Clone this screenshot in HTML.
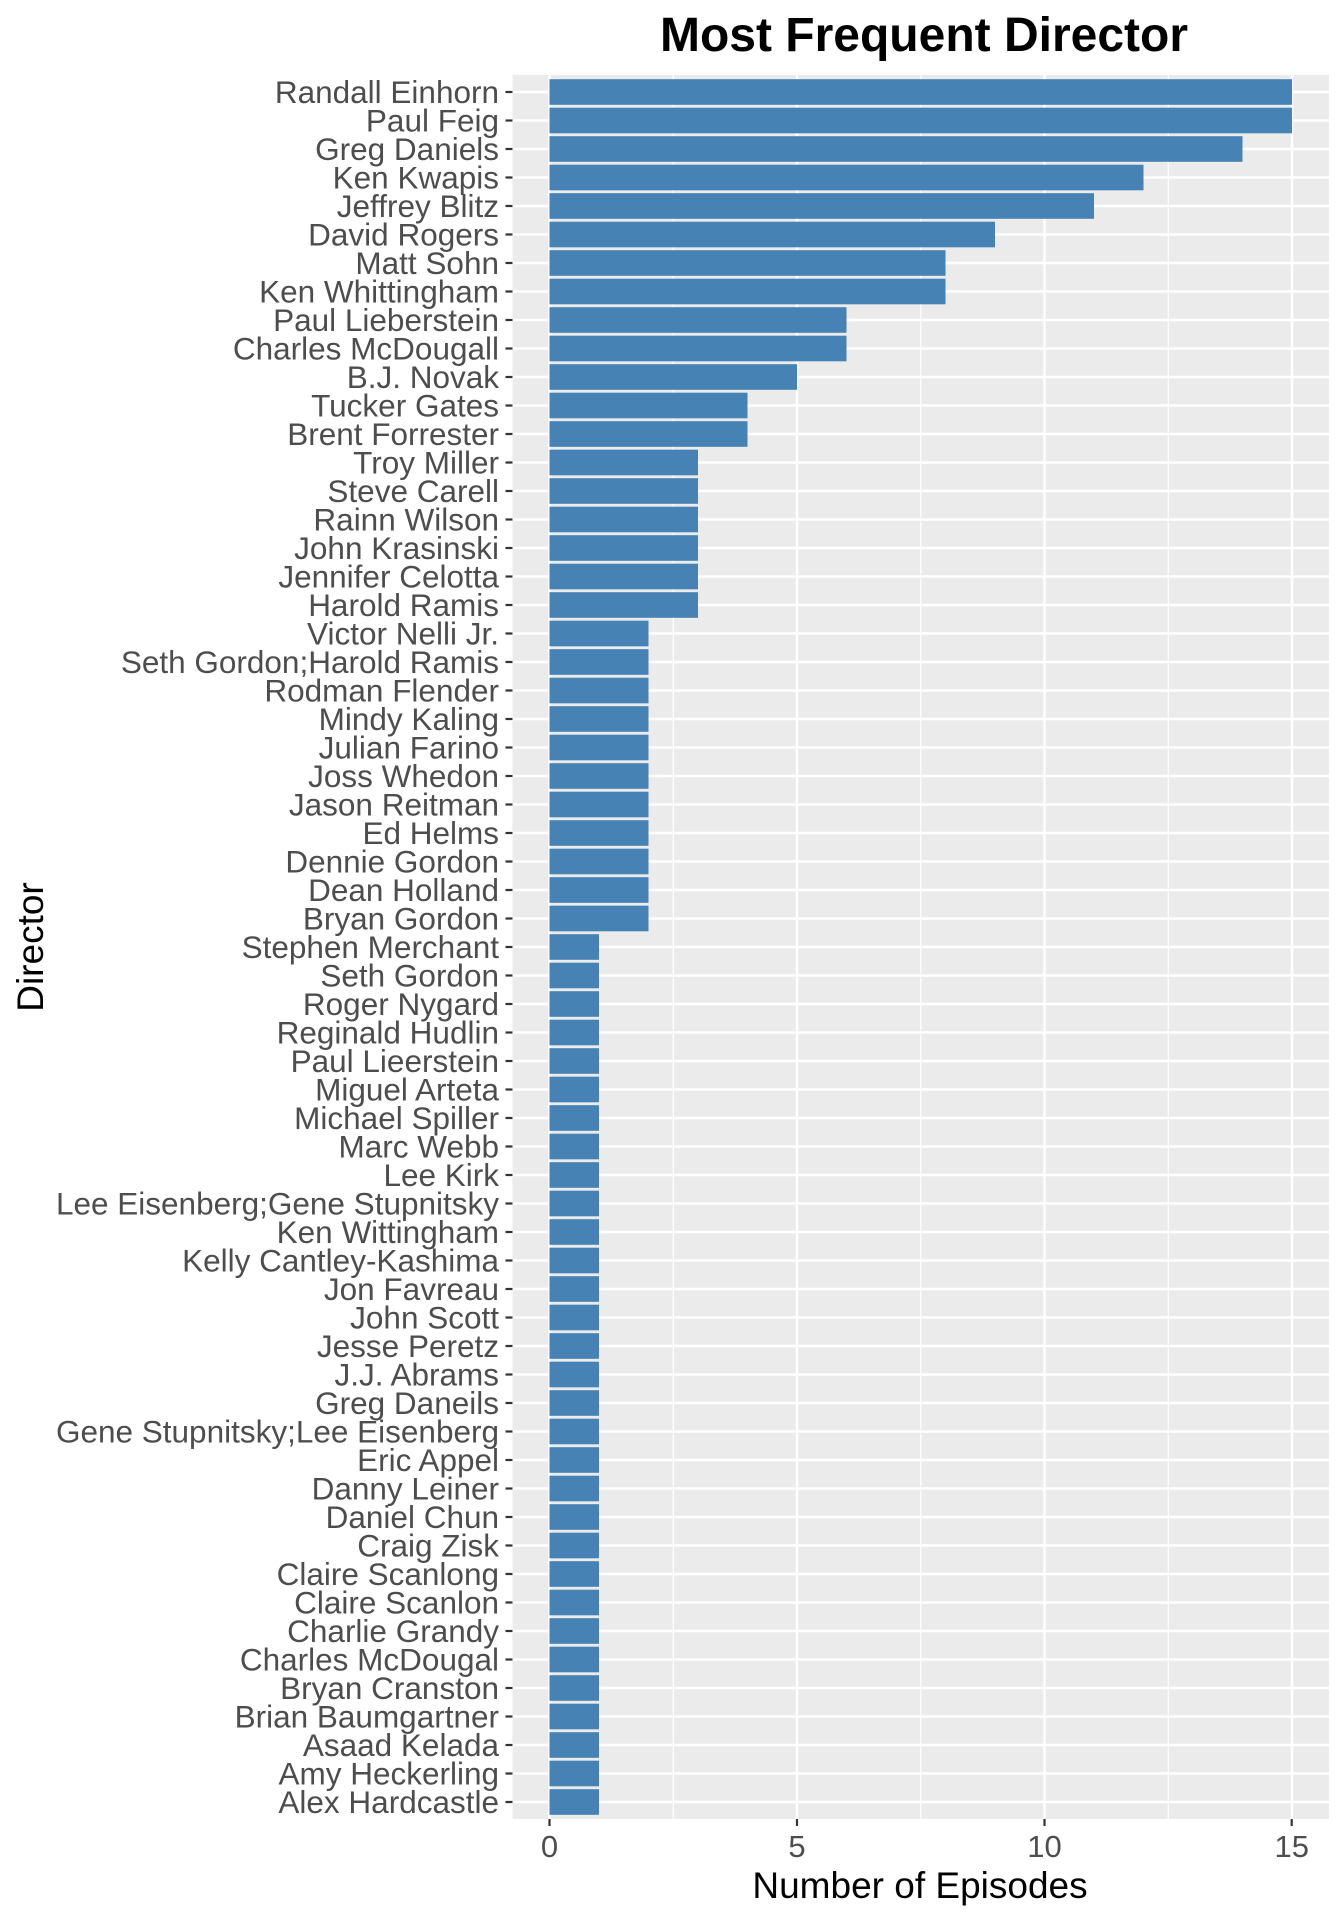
<!DOCTYPE html>
<html><head><meta charset="utf-8"><style>html,body{margin:0;padding:0;background:#fff}svg{display:block}</style></head>
<body>
<svg width="1344" height="1920" xmlns="http://www.w3.org/2000/svg" font-family="Liberation Sans, Arial, sans-serif">
<rect width="1344" height="1920" fill="#fff"/>
<rect x="512.5" y="75" width="816.5" height="1744" fill="#EBEBEB"/>
<g id="grid"></g>
<g id="bars"></g>
<g id="labels"></g>
<text x="924" y="51" font-size="48" font-weight="bold" text-anchor="middle" fill="#000">Most Frequent Director</text>
<g font-size="31" fill="#4D4D4D" text-anchor="middle">
<text x="549.5" y="1857">0</text><text x="797" y="1857">5</text><text x="1044.5" y="1857">10</text><text x="1291.7" y="1857">15</text>
</g>
<g stroke="#333" stroke-width="2.2">
<line x1="549.5" y1="1819" x2="549.5" y2="1826"/><line x1="797" y1="1819" x2="797" y2="1826"/><line x1="1044.5" y1="1819" x2="1044.5" y2="1826"/><line x1="1291.7" y1="1819" x2="1291.7" y2="1826"/>
</g>
<text x="920" y="1898" font-size="37" text-anchor="middle" fill="#000">Number of Episodes</text>
<text transform="translate(43,947) rotate(-90)" font-size="37" text-anchor="middle" fill="#000">Director</text>
<script>
var d=[["Randall Einhorn",15],["Paul Feig",15],["Greg Daniels",14],["Ken Kwapis",12],["Jeffrey Blitz",11],["David Rogers",9],["Matt Sohn",8],["Ken Whittingham",8],["Paul Lieberstein",6],["Charles McDougall",6],["B.J. Novak",5],["Tucker Gates",4],["Brent Forrester",4],["Troy Miller",3],["Steve Carell",3],["Rainn Wilson",3],["John Krasinski",3],["Jennifer Celotta",3],["Harold Ramis",3],["Victor Nelli Jr.",2],["Seth Gordon;Harold Ramis",2],["Rodman Flender",2],["Mindy Kaling",2],["Julian Farino",2],["Joss Whedon",2],["Jason Reitman",2],["Ed Helms",2],["Dennie Gordon",2],["Dean Holland",2],["Bryan Gordon",2],["Stephen Merchant",1],["Seth Gordon",1],["Roger Nygard",1],["Reginald Hudlin",1],["Paul Lieerstein",1],["Miguel Arteta",1],["Michael Spiller",1],["Marc Webb",1],["Lee Kirk",1],["Lee Eisenberg;Gene Stupnitsky",1],["Ken Wittingham",1],["Kelly Cantley-Kashima",1],["Jon Favreau",1],["John Scott",1],["Jesse Peretz",1],["J.J. Abrams",1],["Greg Daneils",1],["Gene Stupnitsky;Lee Eisenberg",1],["Eric Appel",1],["Danny Leiner",1],["Daniel Chun",1],["Craig Zisk",1],["Claire Scanlong",1],["Claire Scanlon",1],["Charlie Grandy",1],["Charles McDougal",1],["Bryan Cranston",1],["Brian Baumgartner",1],["Asaad Kelada",1],["Amy Heckerling",1],["Alex Hardcastle",1]];
var NS="http://www.w3.org/2000/svg",g=document.getElementById("grid"),b=document.getElementById("bars"),l=document.getElementById("labels");
function el(p,t,a){var e=document.createElementNS(NS,t);for(var k in a)e.setAttribute(k,a[k]);p.appendChild(e);return e;}
var x0=549.5,u=49.5,y0=92,st=28.5;
[2.5,7.5,12.5].forEach(function(v){el(g,"line",{x1:x0+v*u,x2:x0+v*u,y1:75,y2:1819,stroke:"#fff","stroke-width":1.2});});
[0,5,10,15].forEach(function(v){el(g,"line",{x1:x0+v*u,x2:x0+v*u,y1:75,y2:1819,stroke:"#fff","stroke-width":2.4});});
d.forEach(function(r,i){var y=y0+i*st;
el(g,"line",{x1:512.5,x2:1329,y1:y,y2:y,stroke:"#fff","stroke-width":2.4});
el(b,"rect",{x:x0,y:y-12.8,width:r[1]*u,height:25.6,fill:"#4682B4"});
el(l,"line",{x1:505.5,x2:512.5,y1:y,y2:y,stroke:"#333","stroke-width":2.2});
var t=el(l,"text",{x:499,y:y+11,"font-size":31.5,"text-anchor":"end",fill:"#4D4D4D"});t.textContent=r[0];});
</script>
</svg>
</body></html>
